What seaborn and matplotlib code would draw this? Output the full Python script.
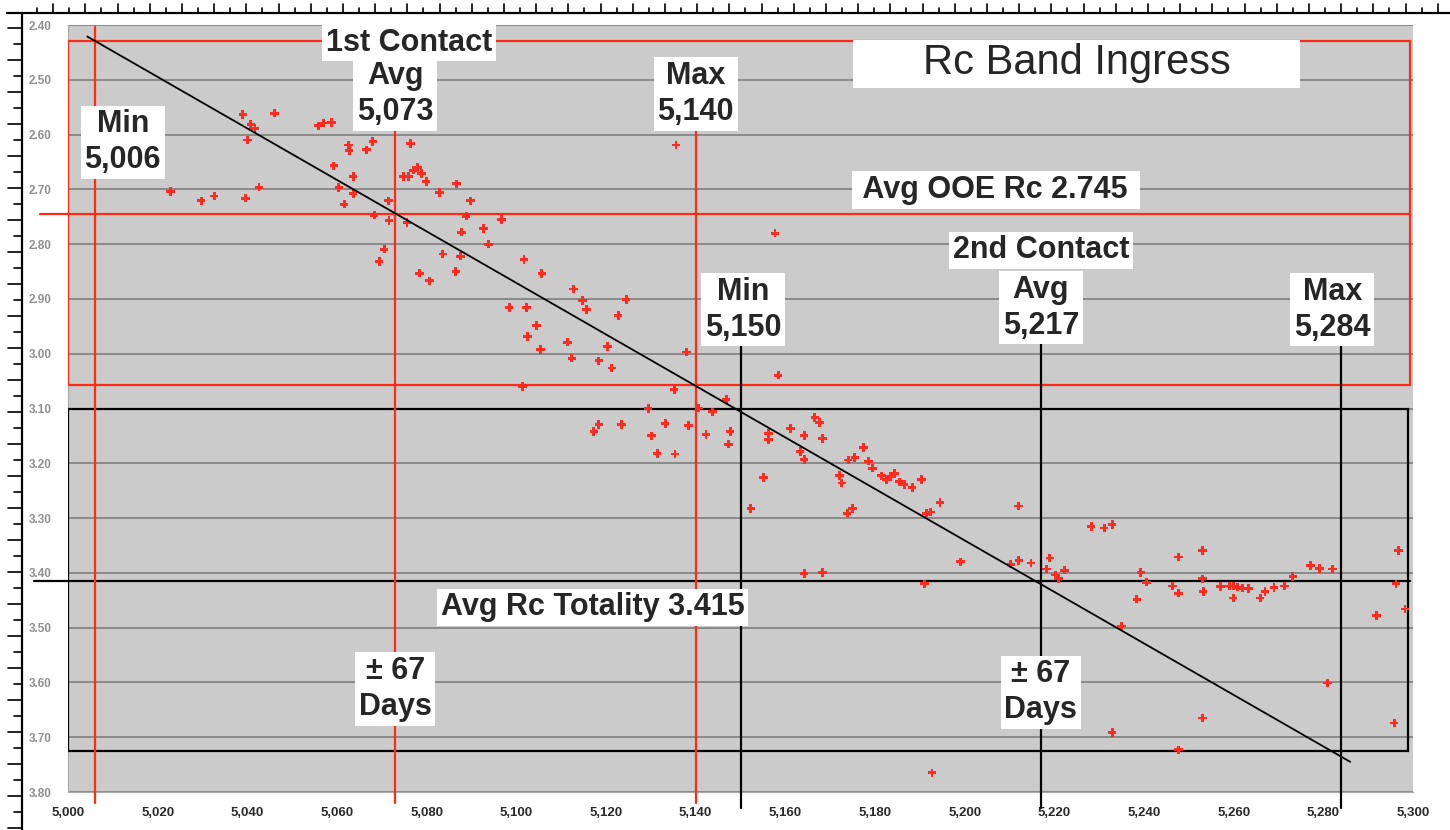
import matplotlib
matplotlib.use("Agg")
import matplotlib.pyplot as plt
import seaborn as sns
import pandas as pd
import numpy as np
from matplotlib.lines import Line2D
from matplotlib.patches import Rectangle
from matplotlib.ticker import FuncFormatter, MultipleLocator

# ---- observations: day number vs Rc magnitude ----
days = [
    5039.0, 5046.0, 5040.8, 5041.7, 5040.0, 5055.8, 5056.9, 5058.8, 5062.6, 5062.7,
    5066.6, 5068.0, 5076.4, 5059.3, 5063.6, 5074.8, 5075.9, 5077.0, 5077.9, 5078.9,
    5079.9, 5082.8, 5086.7, 5089.8, 5022.8, 5029.7, 5032.6, 5039.6, 5042.6, 5060.4,
    5063.6, 5061.6, 5071.5, 5068.3, 5071.6, 5075.6, 5088.8, 5087.8, 5070.5, 5069.4,
    5083.6, 5087.6, 5078.4, 5080.6, 5086.5,
    5096.7, 5092.7, 5093.8, 5101.7, 5105.7, 5112.7, 5114.8, 5115.7, 5124.5, 5122.7,
    5098.4, 5102.3, 5104.5, 5102.5, 5105.4, 5111.4, 5112.4, 5120.3, 5118.4, 5121.3,
    5138.0, 5101.4, 5135.2, 5129.4, 5140.7, 5143.8, 5146.8, 5118.4, 5117.3, 5123.5,
    5133.2, 5138.4, 5130.2, 5131.4, 5135.4, 5142.3, 5147.7, 5147.3, 5156.2, 5156.2,
    5155.1, 5135.6, 5157.7, 5158.4,
    5161.2, 5164.2, 5166.6, 5167.6, 5168.3, 5163.3, 5164.2, 5152.3, 5172.1, 5172.6,
    5173.8, 5175.0, 5174.0, 5175.5, 5177.4, 5178.5, 5179.5, 5181.5, 5182.6, 5183.5,
    5184.4, 5185.4, 5186.5, 5188.3, 5190.4, 5194.5, 5191.4, 5192.4, 5199.1, 5164.2,
    5168.3, 5191.1, 5192.7,
    5212.0, 5228.2, 5231.1, 5232.9, 5210.3, 5212.1, 5214.8, 5219.0, 5218.3, 5220.2,
    5220.9, 5222.3, 5239.3, 5240.6, 5238.4, 5246.3, 5247.7, 5247.7, 5235.0, 5232.9,
    5247.7,
    5253.0, 5253.0, 5253.2, 5257.1, 5259.0, 5259.9, 5260.8, 5262.0, 5263.3, 5259.9,
    5265.9, 5267.0, 5269.0, 5271.3, 5273.2, 5277.2, 5279.2, 5282.1, 5296.8, 5296.2,
    5298.2, 5291.9, 5280.9, 5253.0, 5295.8,
]
rc = [
    2.563, 2.561, 2.582, 2.589, 2.610, 2.584, 2.579, 2.578, 2.619, 2.629,
    2.628, 2.613, 2.616, 2.657, 2.677, 2.677, 2.677, 2.665, 2.660, 2.671,
    2.686, 2.706, 2.690, 2.721, 2.704, 2.721, 2.712, 2.716, 2.696, 2.697,
    2.708, 2.727, 2.721, 2.747, 2.757, 2.761, 2.749, 2.778, 2.809, 2.832,
    2.818, 2.822, 2.853, 2.867, 2.850,
    2.755, 2.771, 2.800, 2.828, 2.854, 2.882, 2.903, 2.919, 2.901, 2.930,
    2.916, 2.916, 2.948, 2.969, 2.992, 2.979, 3.008, 2.987, 3.013, 3.026,
    2.997, 3.060, 3.065, 3.100, 3.099, 3.106, 3.084, 3.129, 3.142, 3.129,
    3.127, 3.131, 3.150, 3.182, 3.183, 3.147, 3.142, 3.165, 3.146, 3.157,
    3.226, 2.619, 2.780, 3.039,
    3.137, 3.149, 3.116, 3.126, 3.155, 3.178, 3.193, 3.283, 3.222, 3.236,
    3.291, 3.283, 3.194, 3.189, 3.171, 3.196, 3.209, 3.223, 3.230, 3.224,
    3.219, 3.234, 3.239, 3.244, 3.230, 3.272, 3.291, 3.289, 3.380, 3.401,
    3.399, 3.420, 3.765,
    3.278, 3.315, 3.318, 3.312, 3.384, 3.377, 3.382, 3.373, 3.393, 3.404,
    3.411, 3.395, 3.399, 3.417, 3.448, 3.424, 3.437, 3.371, 3.497, 3.691,
    3.723,
    3.359, 3.411, 3.434, 3.425, 3.424, 3.424, 3.426, 3.428, 3.429, 3.446,
    3.446, 3.434, 3.427, 3.424, 3.407, 3.387, 3.392, 3.393, 3.359, 3.420,
    3.466, 3.478, 3.601, 3.665, 3.674,
]

# ---- axis ticks ----
x_ticks = [5000, 5020, 5040, 5060, 5080, 5100, 5120, 5140, 5160, 5180,
           5200, 5220, 5240, 5260, 5280, 5300]
y_ticks = [2.40, 2.50, 2.60, 2.70, 2.80, 2.90, 3.00, 3.10, 3.20, 3.30,
           3.40, 3.50, 3.60, 3.70, 3.80]

# ---- reference levels ----
ooe_avg = 2.745
totality_avg = 3.415
first_contact = [5006, 5073, 5140]    # min, avg, max
second_contact = [5150, 5217, 5284]   # min, avg, max
spread_days = 67
ooe_band = [2.43, 3.057]
totality_band = [3.10, 3.725]
trend_days = [5004.3, 5286.0]
trend_rc = [2.421, 3.745]

RED = "#fc2d14"
PT_RED = "#ff2a20"

sns.set_style("white")
plt.rcParams["font.family"] = ["Liberation Sans", "DejaVu Sans"]

W, H = 1450, 830
fig = plt.figure(figsize=(W / 100, H / 100), dpi=100)
ax = fig.add_axes([68 / W, 1 - 792 / H, (1413 - 68) / W, (792 - 25) / H])
ax.set_facecolor("#cbcbcb")

ax.set_xlim(x_ticks[0], x_ticks[-1])
ax.set_ylim(y_ticks[-1], y_ticks[0])

ax.set_xticks(x_ticks)
ax.set_yticks(y_ticks)
ax.xaxis.set_major_formatter(FuncFormatter(lambda v, p: f"{v:,.0f}"))
ax.yaxis.set_major_formatter(FuncFormatter(lambda v, p: f"{v:.2f}"))
ax.xaxis.set_minor_locator(MultipleLocator(1))
ax.yaxis.set_minor_locator(MultipleLocator(0.01))
ax.tick_params(axis="both", which="major", length=0)
ax.tick_params(axis="x", which="major", pad=11, labelsize=9.5, labelcolor="#2a2a2a")
ax.tick_params(axis="y", which="major", pad=12, labelsize=8.5, labelcolor="#8f8f8f")
ax.tick_params(axis="both", which="minor", direction="in", length=3, width=0.8, color="#8a8a8a")
for lab in ax.get_xticklabels() + ax.get_yticklabels():
    lab.set_fontweight("bold")

ax.yaxis.grid(True, which="major", color="#8a8a8a", lw=1.4, zorder=0)
ax.xaxis.grid(False)
ax.set_axisbelow(True)
for side in ["top", "right"]:
    ax.spines[side].set_visible(False)
for side in ["left", "bottom"]:
    ax.spines[side].set_color("#a8a8a8")
    ax.spines[side].set_linewidth(0.8)

# bands
ax.add_patch(Rectangle((5000, ooe_band[0]), 299.3, ooe_band[1] - ooe_band[0],
                       fill=False, ec=RED, lw=1.6, zorder=3))
ax.add_patch(Rectangle((5000, totality_band[0]), 298.9, totality_band[1] - totality_band[0],
                       fill=False, ec="black", lw=1.6, zorder=3))

# average magnitude levels
ax.plot([4993.8, 5299.3], [ooe_avg, ooe_avg], color=RED, lw=1.6, clip_on=False, zorder=3)
ax.plot([4992.4, 5299.3], [totality_avg, totality_avg], color="black", lw=1.6,
        clip_on=False, zorder=3)

# contact time markers
ax.plot([first_contact[0]] * 2, [2.404, 3.82], color=RED, lw=1.6, clip_on=False, zorder=3)
ax.plot([first_contact[1]] * 2, [2.45, 3.82], color=RED, lw=1.6, clip_on=False, zorder=3)
ax.plot([first_contact[2]] * 2, [2.53, 3.82], color=RED, lw=1.6, clip_on=False, zorder=3)
for d in second_contact:
    ax.plot([d, d], [2.92, 3.829], color="black", lw=1.6, clip_on=False, zorder=3)

# observations
df = pd.DataFrame({"day": days, "rc": rc})
sns.scatterplot(data=df, x="day", y="rc", ax=ax, marker="P", s=38, color=PT_RED,
                edgecolor="none", linewidth=0, zorder=4)
ax.set_xlabel("")
ax.set_ylabel("")

# linear trend
sns.lineplot(x=trend_days, y=trend_rc, ax=ax, color="black", lw=1.3, zorder=5)

# annotations
box = dict(boxstyle="square,pad=0.12", fc="white", ec="none")


def note(x, y, s, size=22, weight="bold"):
    ax.text(x, y, s, ha="center", va="center", fontsize=size, fontweight=weight,
            linespacing=1.25, bbox=box, zorder=8, clip_on=False)


note(5076, 2.432, "1st Contact")
note(first_contact[1], 2.526, f"Avg\n{first_contact[1]:,}")
note(first_contact[2], 2.526, f"Max\n{first_contact[2]:,}")
note(5012.2, 2.614, f"Min\n{first_contact[0]:,}")

note(5217, 2.811, "2nd Contact")
note(second_contact[1], 2.916, f"Avg\n{second_contact[1]:,}")
note(second_contact[0] + 0.6, 2.92, f"Min\n{second_contact[0]:,}")
note(second_contact[2] - 2, 2.92, f"Max\n{second_contact[2]:,}")

note(5207, 2.701, f" Avg OOE Rc {ooe_avg:.3f} ")
note(5117, 3.463, f"Avg Rc Totality {totality_avg:.3f}")
note(first_contact[1], 3.612, f"± {spread_days}\nDays")
note(second_contact[1], 3.618, f"± {spread_days}\nDays")

# chart title panel
ax.add_patch(Rectangle((5175.1, 2.427), 99.7, 0.088, fc="white", ec="none", zorder=7))
ax.text(5225, 2.469, "Rc Band Ingress", ha="center", va="center", fontsize=30, zorder=8)

# page rulers around the chart
def fx(px):
    return px / W


def fy(py):
    return 1 - py / H


fig.add_artist(Line2D([fx(7), fx(W)], [fy(13), fy(13)], color="black", lw=1.6))
fig.add_artist(Line2D([fx(22), fx(22)], [fy(13), fy(H)], color="black", lw=1.6))
for i, px in enumerate(np.arange(37, W, 16.1)):
    h = 9 if i % 2 else 5
    fig.add_artist(Line2D([fx(px), fx(px)], [fy(13), fy(13 - h)], color="black", lw=1.2))
for i, py in enumerate(np.arange(28, H, 16.0)):
    l = 14 if i % 2 == 0 else 8
    fig.add_artist(Line2D([fx(22 - l), fx(22)], [fy(py), fy(py)], color="black", lw=1.2))

fig.savefig("out.png", dpi=100, facecolor="white")
